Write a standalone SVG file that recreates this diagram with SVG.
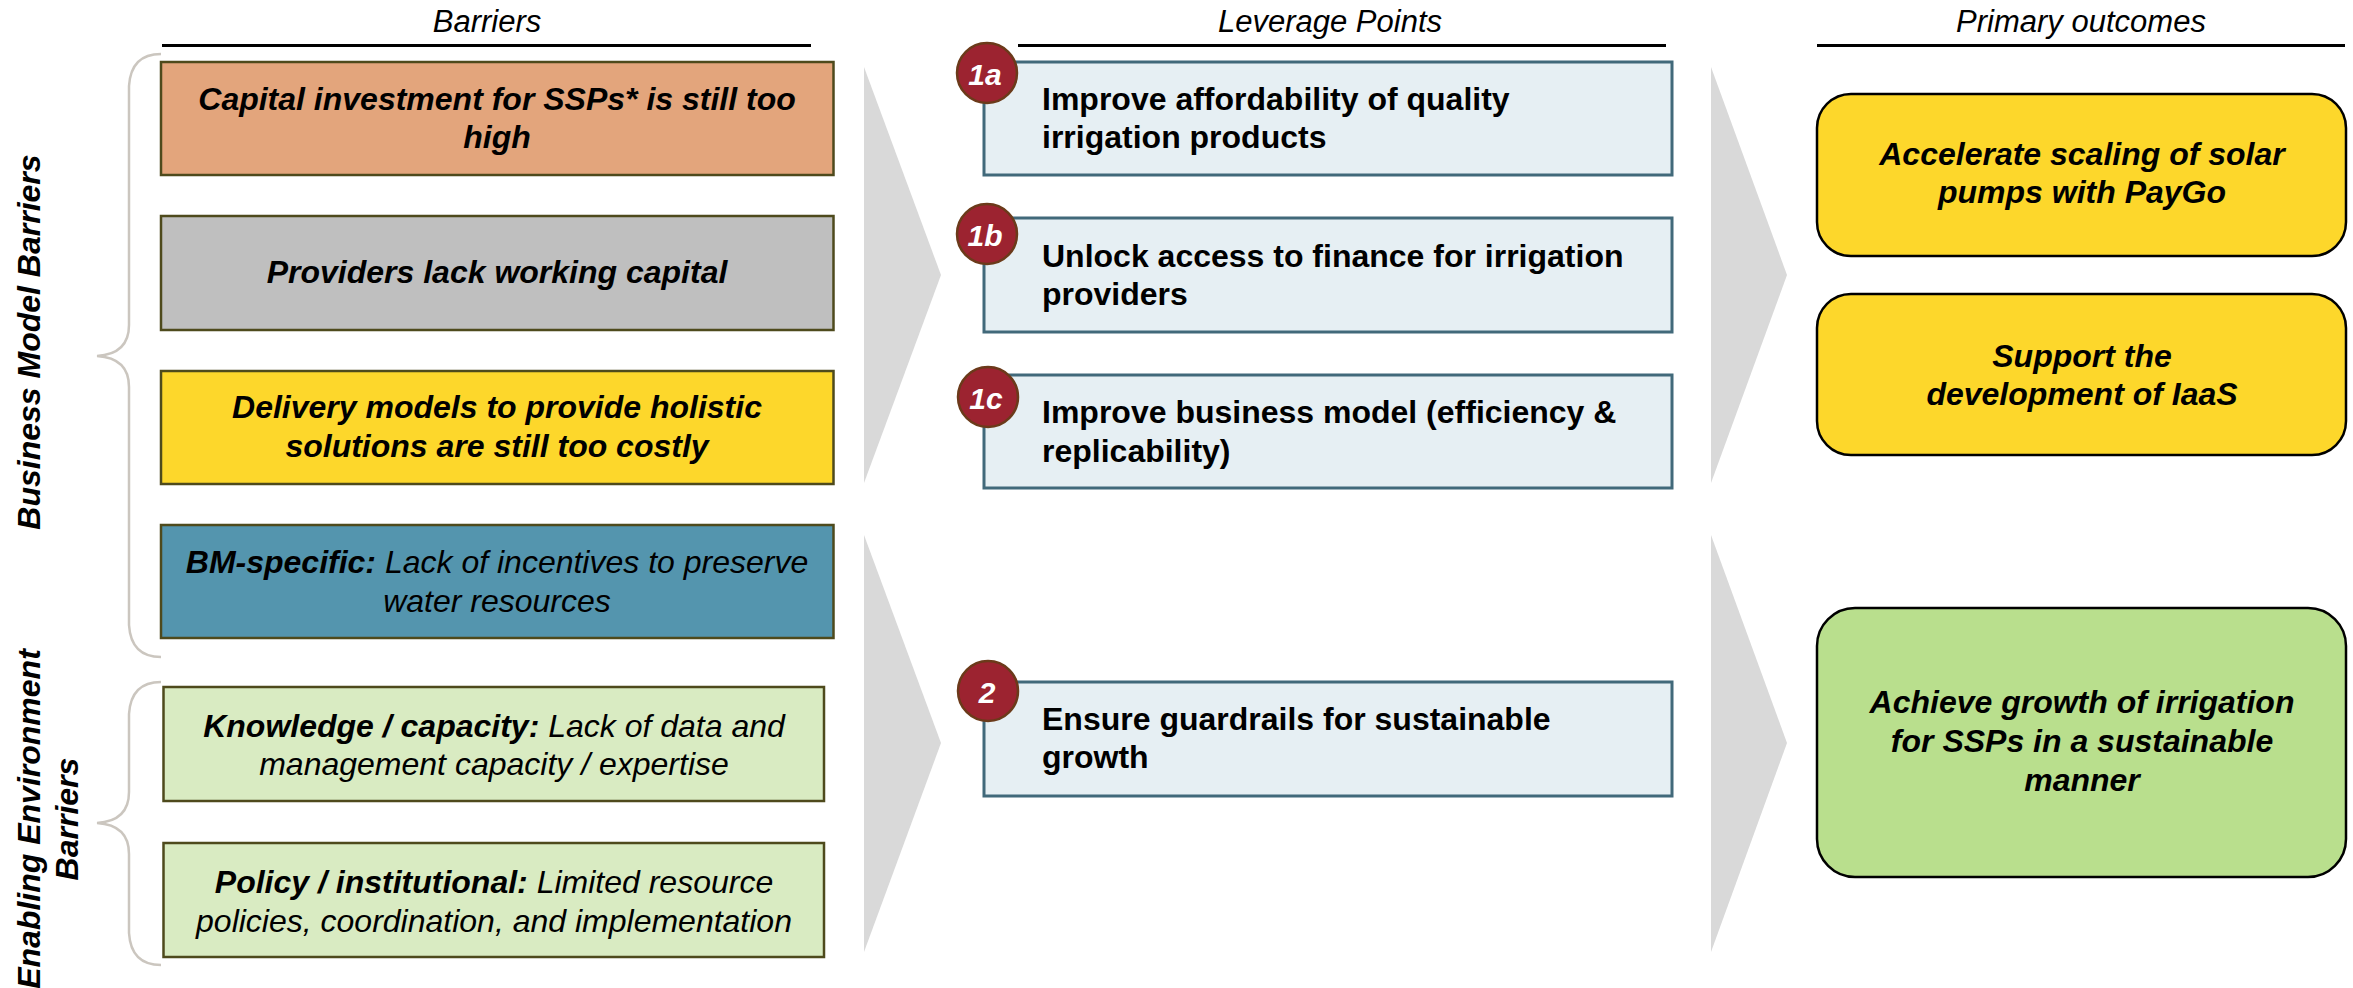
<svg xmlns="http://www.w3.org/2000/svg" width="2353" height="988" viewBox="0 0 2353 988">
<style>
text{font-family:"Liberation Sans",Arial,sans-serif;fill:#000;}
.hdr{font-size:31px;font-style:italic;text-anchor:middle;}
.hl{stroke:#000;stroke-width:3;}
.bx{stroke:#4E4A1C;stroke-width:2.5;}
.bt{font-size:32px;font-style:italic;text-anchor:middle;}
.b{font-weight:bold;}
.lv{fill:#E6EFF3;stroke:#41697A;stroke-width:3;}
.lt{font-size:32px;font-weight:bold;}
.cir{fill:#9C2330;stroke:#6B3A1A;stroke-width:2.5;}
.cn{font-size:30px;font-weight:bold;font-style:italic;fill:#fff;text-anchor:middle;}
.oc{stroke:#000;stroke-width:2.5;}
.ot{font-size:32px;font-weight:bold;font-style:italic;text-anchor:middle;}
.chev{fill:#D9D9D9;}
.brace{fill:none;stroke:#CBC6BF;stroke-width:2.5;}
.vl{font-size:32px;font-weight:bold;font-style:italic;text-anchor:middle;}
</style>

<g id="headers">
<text class="hdr" x="487" y="32">Barriers</text>
<line class="hl" x1="162" y1="45.5" x2="811" y2="45.5"/>
<text class="hdr" x="1330" y="32">Leverage Points</text>
<line class="hl" x1="1018" y1="45.5" x2="1666" y2="45.5"/>
<text class="hdr" x="2081" y="32">Primary outcomes</text>
<line class="hl" x1="1817" y1="45.5" x2="2345" y2="45.5"/>
</g>

<g id="side-labels">
<path class="brace" d="M161,54 Q131,54 129,86 L129,325 Q129,354 97,356 Q129,358 129,387 L129,625 Q131,657 161,657"/>
<path class="brace" d="M161,682 Q131,682 129,714 L129,792 Q129,821 97,823 Q129,825 129,854 L129,933 Q131,965 161,965"/>
<text class="vl" transform="translate(40,342) rotate(-90)">Business Model Barriers</text>
<text class="vl" transform="translate(40,819) rotate(-90)">Enabling Environment</text>
<text class="vl" transform="translate(77.5,819) rotate(-90)">Barriers</text>
</g>

<g id="connectors">
<polygon class="chev" points="864,67 941,275 864,483"/>
<polygon class="chev" points="864,535 941,743 864,952"/>
<polygon class="chev" points="1711,67 1787,275 1711,483"/>
<polygon class="chev" points="1711,535 1787,743 1711,952"/>
</g>

<g id="barrier-capital">
<rect class="bx" x="161" y="62" width="672.5" height="113" fill="#E3A57C"/>
<text class="bt b" x="497" y="110">Capital investment for SSPs* is still too</text>
<text class="bt b" x="497" y="148">high</text>
</g>
<g id="barrier-working-capital">
<rect class="bx" x="161" y="216" width="672.5" height="114" fill="#BFBFBF"/>
<text class="bt b" x="497" y="283">Providers lack working capital</text>
</g>
<g id="barrier-delivery">
<rect class="bx" x="161" y="371" width="672.5" height="113" fill="#FDD72B"/>
<text class="bt b" x="497" y="418">Delivery models to provide holistic</text>
<text class="bt b" x="497" y="457">solutions are still too costly</text>
</g>
<g id="barrier-bm-specific">
<rect class="bx" x="161" y="525" width="672.5" height="113" fill="#5495AE"/>
<text class="bt" x="497" y="573"><tspan class="b">BM-specific:</tspan> Lack of incentives to preserve</text>
<text class="bt" x="497" y="612">water resources</text>
</g>
<g id="barrier-knowledge">
<rect class="bx" x="163.5" y="687" width="660.5" height="114" fill="#D9EBC2"/>
<text class="bt" x="494" y="737"><tspan class="b">Knowledge / capacity:</tspan> Lack of data and</text>
<text class="bt" x="494" y="775">management capacity / expertise</text>
</g>
<g id="barrier-policy">
<rect class="bx" x="163.5" y="843" width="660.5" height="114" fill="#D9EBC2"/>
<text class="bt" x="494" y="893"><tspan class="b">Policy / institutional:</tspan> Limited resource</text>
<text class="bt" x="494" y="932">policies, coordination, and implementation</text>
</g>

<g id="lever-1a">
<rect class="lv" x="984" y="62" width="688" height="113"/>
<circle class="cir" cx="987" cy="73" r="30"/>
<text class="cn" x="985" y="85">1a</text>
<text class="lt" x="1042" y="110">Improve affordability of quality</text>
<text class="lt" x="1042" y="148">irrigation products</text>
</g>
<g id="lever-1b">
<rect class="lv" x="984" y="218" width="688" height="114"/>
<circle class="cir" cx="987" cy="234" r="30"/>
<text class="cn" x="985" y="246">1b</text>
<text class="lt" x="1042" y="267">Unlock access to finance for irrigation</text>
<text class="lt" x="1042" y="305">providers</text>
</g>
<g id="lever-1c">
<rect class="lv" x="984" y="375" width="688" height="113"/>
<circle class="cir" cx="988" cy="397" r="30"/>
<text class="cn" x="986" y="409">1c</text>
<text class="lt" x="1042" y="423">Improve business model (efficiency &amp;</text>
<text class="lt" x="1042" y="462">replicability)</text>
</g>
<g id="lever-2">
<rect class="lv" x="984" y="682" width="688" height="114"/>
<circle class="cir" cx="988" cy="691" r="30"/>
<text class="cn" x="987" y="703">2</text>
<text class="lt" x="1042" y="730">Ensure guardrails for sustainable</text>
<text class="lt" x="1042" y="768">growth</text>
</g>

<g id="outcome-paygo">
<rect class="oc" x="1817" y="94" width="529" height="162" rx="34" ry="34" fill="#FDD72B"/>
<text class="ot" x="2082" y="165">Accelerate scaling of solar</text>
<text class="ot" x="2082" y="203">pumps with PayGo</text>
</g>
<g id="outcome-iaas">
<rect class="oc" x="1817" y="294" width="529" height="161" rx="34" ry="34" fill="#FDD72B"/>
<text class="ot" x="2082" y="367">Support the</text>
<text class="ot" x="2082" y="405">development of IaaS</text>
</g>
<g id="outcome-sustainable">
<rect class="oc" x="1817" y="608" width="529" height="269" rx="38" ry="38" fill="#B9DF8D"/>
<text class="ot" x="2082" y="713">Achieve growth of irrigation</text>
<text class="ot" x="2082" y="752">for SSPs in a sustainable</text>
<text class="ot" x="2082" y="791">manner</text>
</g>
</svg>
